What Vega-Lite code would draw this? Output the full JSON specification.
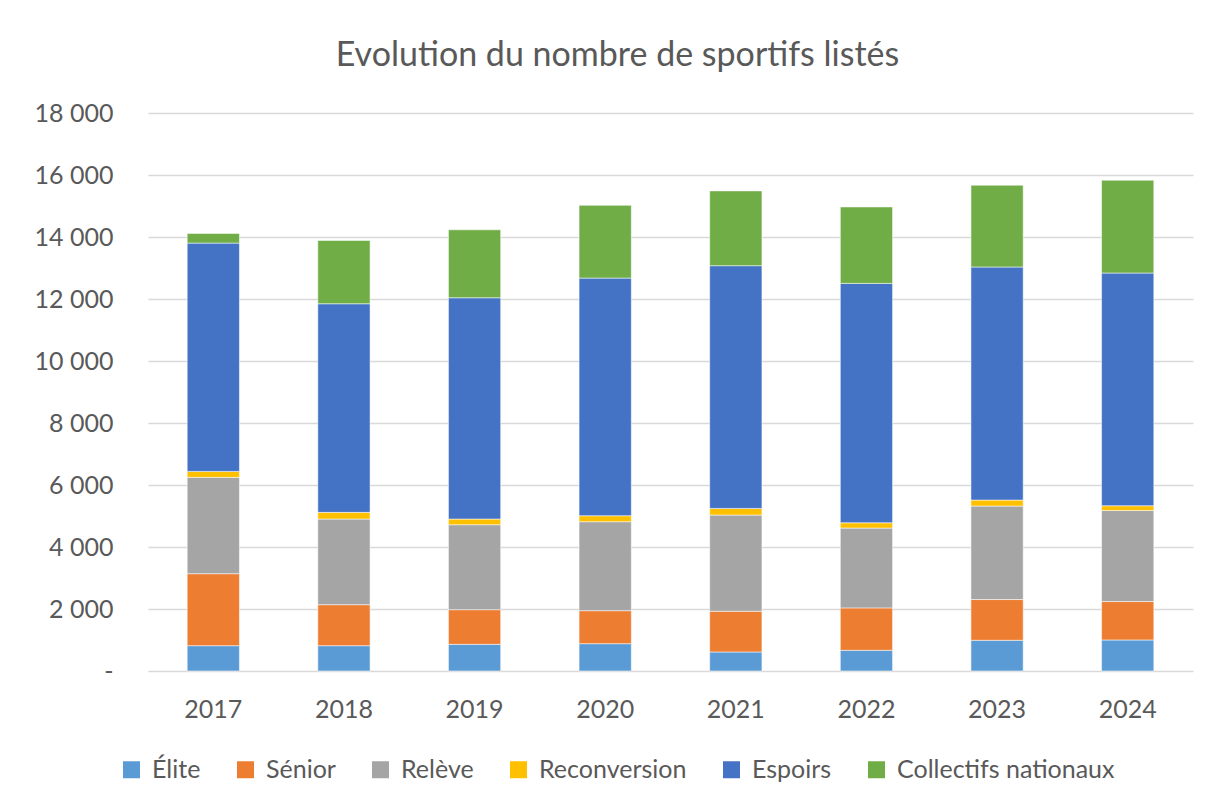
{
  "$schema": "https://vega.github.io/schema/vega-lite/v6.json",
  "autosize": {"type": "none"},
  "width": 1045,
  "height": 558,
  "padding": {"left": 148, "top": 113, "right": 17, "bottom": 132},
  "background": "#ffffff",
  "title": {
    "text": "Evolution du nombre de sportifs listés",
    "font": "Lato",
    "fontSize": 34,
    "fontWeight": "normal",
    "color": "#595959",
    "anchor": "middle",
    "frame": "group",
    "baseline": "middle",
    "offset": 11,
    "dx": -53
  },
  "data": {
    "values": [
      {"year": "2017", "cat": "Élite", "ord": 1, "v": 817},
      {"year": "2017", "cat": "Sénior", "ord": 2, "v": 2322},
      {"year": "2017", "cat": "Relève", "ord": 3, "v": 3107},
      {"year": "2017", "cat": "Reconversion", "ord": 4, "v": 193},
      {"year": "2017", "cat": "Espoirs", "ord": 5, "v": 7364},
      {"year": "2017", "cat": "Collectifs nationaux", "ord": 6, "v": 312},
      {"year": "2018", "cat": "Élite", "ord": 1, "v": 817},
      {"year": "2018", "cat": "Sénior", "ord": 2, "v": 1322},
      {"year": "2018", "cat": "Relève", "ord": 3, "v": 2763},
      {"year": "2018", "cat": "Reconversion", "ord": 4, "v": 215},
      {"year": "2018", "cat": "Espoirs", "ord": 5, "v": 6730},
      {"year": "2018", "cat": "Collectifs nationaux", "ord": 6, "v": 2042},
      {"year": "2019", "cat": "Élite", "ord": 1, "v": 860},
      {"year": "2019", "cat": "Sénior", "ord": 2, "v": 1118},
      {"year": "2019", "cat": "Relève", "ord": 3, "v": 2741},
      {"year": "2019", "cat": "Reconversion", "ord": 4, "v": 183},
      {"year": "2019", "cat": "Espoirs", "ord": 5, "v": 7138},
      {"year": "2019", "cat": "Collectifs nationaux", "ord": 6, "v": 2193},
      {"year": "2020", "cat": "Élite", "ord": 1, "v": 882},
      {"year": "2020", "cat": "Sénior", "ord": 2, "v": 1064},
      {"year": "2020", "cat": "Relève", "ord": 3, "v": 2870},
      {"year": "2020", "cat": "Reconversion", "ord": 4, "v": 194},
      {"year": "2020", "cat": "Espoirs", "ord": 5, "v": 7664},
      {"year": "2020", "cat": "Collectifs nationaux", "ord": 6, "v": 2348},
      {"year": "2021", "cat": "Élite", "ord": 1, "v": 614},
      {"year": "2021", "cat": "Sénior", "ord": 2, "v": 1314},
      {"year": "2021", "cat": "Relève", "ord": 3, "v": 3102},
      {"year": "2021", "cat": "Reconversion", "ord": 4, "v": 215},
      {"year": "2021", "cat": "Espoirs", "ord": 5, "v": 7830},
      {"year": "2021", "cat": "Collectifs nationaux", "ord": 6, "v": 2412},
      {"year": "2022", "cat": "Élite", "ord": 1, "v": 668},
      {"year": "2022", "cat": "Sénior", "ord": 2, "v": 1368},
      {"year": "2022", "cat": "Relève", "ord": 3, "v": 2574},
      {"year": "2022", "cat": "Reconversion", "ord": 4, "v": 172},
      {"year": "2022", "cat": "Espoirs", "ord": 5, "v": 7722},
      {"year": "2022", "cat": "Collectifs nationaux", "ord": 6, "v": 2466},
      {"year": "2023", "cat": "Élite", "ord": 1, "v": 991},
      {"year": "2023", "cat": "Sénior", "ord": 2, "v": 1314},
      {"year": "2023", "cat": "Relève", "ord": 3, "v": 3015},
      {"year": "2023", "cat": "Reconversion", "ord": 4, "v": 194},
      {"year": "2023", "cat": "Espoirs", "ord": 5, "v": 7518},
      {"year": "2023", "cat": "Collectifs nationaux", "ord": 6, "v": 2638},
      {"year": "2024", "cat": "Élite", "ord": 1, "v": 1002},
      {"year": "2024", "cat": "Sénior", "ord": 2, "v": 1238},
      {"year": "2024", "cat": "Relève", "ord": 3, "v": 2940},
      {"year": "2024", "cat": "Reconversion", "ord": 4, "v": 151},
      {"year": "2024", "cat": "Espoirs", "ord": 5, "v": 7507},
      {"year": "2024", "cat": "Collectifs nationaux", "ord": 6, "v": 2994}
    ]
  },
  "mark": {"type": "bar", "stroke": "#ffffff", "strokeWidth": 0.75, "strokeOpacity": 0.7},
  "encoding": {
    "x": {
      "field": "year",
      "type": "nominal",
      "scale": {"paddingInner": 0.6, "paddingOuter": 0.3},
      "axis": {
        "title": null,
        "labelAngle": 0,
        "labelFont": "Lato",
        "labelFontSize": 25,
        "labelColor": "#595959",
        "ticks": false,
        "tickSize": 0,
        "labelPadding": 26,
        "domain": false,
        "grid": false
      }
    },
    "y": {
      "field": "v",
      "type": "quantitative",
      "aggregate": "sum",
      "stack": "zero",
      "scale": {"domain": [0, 18000], "nice": false},
      "axis": {
        "title": null,
        "values": [0, 2000, 4000, 6000, 8000, 10000, 12000, 14000, 16000, 18000],
        "labelExpr": "datum.value == 0 ? '-\u2007' : replace(format(datum.value, ','), ',', ' ')",
        "labelFont": "Lato",
        "labelFontSize": 25,
        "labelColor": "#595959",
        "labelPadding": 35,
        "ticks": false,
        "tickSize": 0,
        "domain": false,
        "grid": true,
        "gridColor": "#d9d9d9",
        "gridWidth": 1.5
      }
    },
    "color": {
      "field": "cat",
      "type": "nominal",
      "scale": {
        "domain": ["Élite", "Sénior", "Relève", "Reconversion", "Espoirs", "Collectifs nationaux"],
        "range": ["#5B9BD5", "#ED7D31", "#A5A5A5", "#FFC000", "#4472C4", "#70AD47"]
      },
      "legend": {
        "title": null,
        "orient": "none",
        "direction": "horizontal",
        "legendX": -29,
        "legendY": 644,
        "symbolType": "square",
        "symbolSize": 289,
        "symbolStrokeWidth": 0,
        "labelFont": "Lato",
        "labelFontSize": 25,
        "labelColor": "#595959",
        "labelOffset": 8,
        "columnPadding": 32,
        "padding": 0,
        "labelLimit": 400
      }
    },
    "order": {"field": "ord", "type": "quantitative"}
  },
  "config": {
    "view": {"stroke": null}
  }
}
